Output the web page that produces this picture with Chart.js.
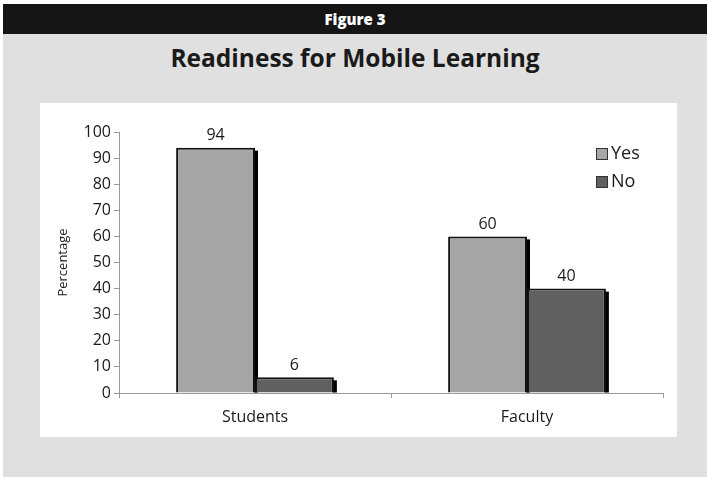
<!DOCTYPE html>
<html>
<head>
<meta charset="utf-8">
<script src="https://cdn.jsdelivr.net/npm/chart.js@4/dist/chart.umd.min.js"></script>
<style>
  html, body { margin: 0; padding: 0; background: #fff; }
  .page { position: absolute; left: 3px; top: 4px; width: 704px; height: 473px; background: #e0e0e0; }
  .fig-head { position: absolute; left: 0; top: 0; width: 704px; height: 30px; background: #151515; color: #fff;
    font: 800 15px "Open Sans", sans-serif; text-align: center; line-height: 30px; }
  .fig-title { position: absolute; left: 0; top: 37px; width: 704px; text-align: center;
    font: bold 24.5px "Open Sans", sans-serif; color: #1a1a1a; }
  .panel { position: absolute; left: 37px; top: 99px; width: 637px; height: 334px; background: #fff; }
</style>
</head>
<body>
<div class="page">
  <div class="fig-head">Figure 3</div>
  <div class="fig-title">Readiness for Mobile Learning</div>
  <div class="panel"><canvas id="myChart"></canvas></div>
</div>
<script>
const categories = ['Students', 'Faculty'];
const yesValues = [94, 60];
const noValues = [6, 40];
const yTicks = [0, 10, 20, 30, 40, 50, 60, 70, 80, 90, 100];

const textColor = '#1a1a1a';
const tickFont = { family: '"Open Sans", sans-serif', size: 16 };

// dark strip on the right of every bar, like the old 3D look
const barShadow = {
    id: 'barShadow',
    beforeDatasetsDraw(chart) {
        const ctx = chart.ctx;
        ctx.save();
        ctx.fillStyle = '#000';
        chart.data.datasets.forEach((ds, i) => {
            chart.getDatasetMeta(i).data.forEach(bar => {
                const p = bar.getProps(['x', 'y', 'base', 'width'], true);
                ctx.fillRect(p.x + p.width / 2 - 1, p.y + 3, 4, p.base - p.y - 3);
            });
        });
        ctx.restore();
    }
};

// value above each bar
const barLabels = {
    id: 'barLabels',
    afterDatasetsDraw(chart) {
        const ctx = chart.ctx;
        ctx.save();
        ctx.font = '16px "Open Sans", sans-serif';
        ctx.fillStyle = textColor;
        ctx.textAlign = 'center';
        ctx.textBaseline = 'bottom';
        chart.data.datasets.forEach((ds, i) => {
            chart.getDatasetMeta(i).data.forEach((bar, j) => {
                ctx.fillText(ds.data[j], bar.x, bar.y - 4);
            });
        });
        ctx.restore();
    }
};

// legend in the upper right corner
const cornerLegend = {
    id: 'cornerLegend',
    afterDraw(chart) {
        const ctx = chart.ctx;
        ctx.save();
        ctx.font = '18px "Open Sans", sans-serif';
        ctx.textBaseline = 'middle';
        chart.data.datasets.forEach((ds, i) => {
            const cy = 51 + i * 28;
            ctx.fillStyle = ds.backgroundColor;
            ctx.fillRect(556, cy - 6, 12, 12);
            ctx.strokeStyle = '#333';
            ctx.lineWidth = 1;
            ctx.strokeRect(556.5, cy - 5.5, 11, 11);
            ctx.fillStyle = textColor;
            ctx.fillText(ds.label, 571, cy);
        });
        ctx.restore();
    }
};

const chart = new Chart(document.getElementById('myChart'), {
    type: 'bar',
    data: {
        labels: categories,
        datasets: [{
            label: 'Yes',
            data: yesValues,
            backgroundColor: '#a6a6a6',
            borderColor: '#111',
            borderWidth: 2,
            categoryPercentage: 0.58,
            barPercentage: 1
        }, {
            label: 'No',
            data: noValues,
            backgroundColor: '#606060',
            borderColor: '#111',
            borderWidth: 2,
            categoryPercentage: 0.58,
            barPercentage: 1
        }]
    },
    options: {
        responsive: true,
        maintainAspectRatio: false,
        animation: false,
        layout: { padding: { top: 29, right: 14, left: 0, bottom: 0 } },
        plugins: {
            legend: { display: false },
            tooltip: { enabled: false }
        },
        scales: {
            x: {
                grid: { display: true, drawOnChartArea: false, offset: true, tickLength: 5, color: '#999' },
                border: { color: '#999' },
                ticks: { color: textColor, font: tickFont, padding: 10 },
                afterFit: s => { s.height = 44; }
            },
            y: {
                min: 0,
                max: 100,
                afterBuildTicks: s => { s.ticks = yTicks.map(v => ({ value: v })); },
                grid: { display: true, drawOnChartArea: false, tickLength: 5, color: '#999' },
                border: { color: '#999' },
                ticks: { color: textColor, font: tickFont, padding: 3 },
                title: { display: true, text: 'Percentage', color: textColor,
                    font: { family: '"Open Sans", sans-serif', size: 13 }, padding: { top: 15, bottom: 0 } },
                afterFit: s => { s.width = 79; }
            }
        }
    },
    plugins: [barShadow, barLabels, cornerLegend]
});
</script>
</body>
</html>
